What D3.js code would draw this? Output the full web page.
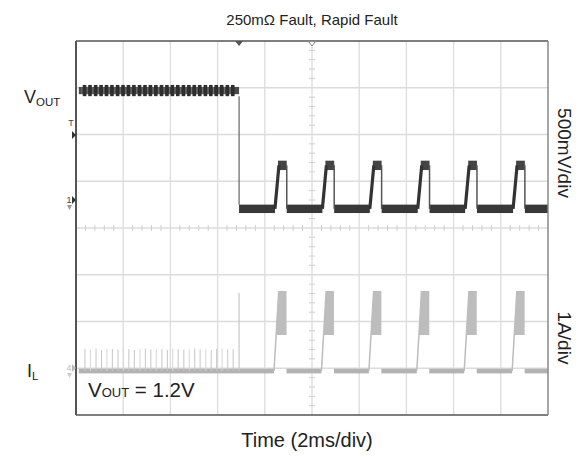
<!DOCTYPE html>
<html><head><meta charset="utf-8">
<script src="https://cdn.jsdelivr.net/npm/d3@7"></script>
<style>body{margin:0;background:#fff} svg{display:block} text{font-family:Arial,'Liberation Sans',sans-serif}</style>
</head><body><svg id="c" width="587" height="457"></svg>
<script>
// ---------- data ----------
const titleText = "250mΩ Fault, Rapid Fault";
const xLabelText = "Time (2ms/div)";
const ch1ScaleText = "500mV/div";
const ch4ScaleText = "1A/div";
const voutNoteMain = "V", voutNoteSub = "OUT", voutNoteRest = " = 1.2V";
const timeDomainMs = [0, 20];           // 10 div x 2 ms
const voutDomain = [-2.2, 1.8];         // 8 div x 0.5 V
const ilDomain = [-0.94, 7.06];         // 8 div x 1 A
const xDivisions = 10, yDivisions = 8, minorPerDiv = 5;
const traceStart = 0.12;
const traceEnd = 20;
const faultTime = 6.91;
const voutPreFault = [1.21, 1.33];
const voutLowBand = [-0.04, 0.05];
const voutPulseTop = [0.42, 0.52];
const pulseStarts = [8.43, 10.44, 12.45, 14.48, 16.49, 18.52];
const voutPulseShape = [[0, 0.005], [0.17, 0.47], [0.5, 0.47], [0.5, 0.005]];
const ilPulseShape = [[-0.04, 0], [0.16, 1.71], [0.49, 1.71], [0.49, 0.77], [0.05, 0.77]];
const ilPulseSlant = [[-0.04, 0], [0.16, 1.71]];
const ilBaseBand = [-0.05, 0.05];
const ilFaultSpike = 1.67;
const ilSwitchTimes = [0.38, 0.61, 0.85, 1.08, 1.31, 1.54, 1.78, 2.01, 2.24, 2.47, 2.71, 2.94, 3.17, 3.40,
  3.64, 3.87, 4.10, 4.33, 4.57, 4.80, 5.03, 5.26, 5.50, 5.73, 5.96, 6.19, 6.43, 6.66];
const ilSwitchPeaks = [0.47, 0.46, 0.48, 0.45, 0.47, 0.47, 0.46, 0.48, 0.47, 0.45, 0.47, 0.48, 0.46, 0.47,
  0.47, 0.45, 0.48, 0.47, 0.46, 0.47, 0.48, 0.46, 0.47, 0.45, 0.47, 0.48, 0.46, 0.47];
const triggerTime = 6.91;   // filled marker on top edge
const centerTime = 10;      // hollow marker on top edge

// ---------- layout ----------
const L = 76, R = 548, T = 41, B = 415;
const svg = d3.select("#c");
const x = d3.scaleLinear().domain(timeDomainMs).range([L, R]);
const yV = d3.scaleLinear().domain(voutDomain).range([B, T]);
const yI = d3.scaleLinear().domain(ilDomain).range([B, T]);
const gx = d3.scaleLinear().domain([0, xDivisions]).range([L, R]);
const gy = d3.scaleLinear().domain([0, yDivisions]).range([T, B]);

// grid
const grid = svg.append("g").attr("stroke", "#dcdcdc").attr("stroke-width", 1.3);
d3.range(1, xDivisions).forEach(i => grid.append("line").attr("x1", gx(i)).attr("x2", gx(i)).attr("y1", T).attr("y2", B));
d3.range(1, yDivisions).forEach(i => grid.append("line").attr("y1", gy(i)).attr("y2", gy(i)).attr("x1", L).attr("x2", R));
// minor ticks on centre lines
const mt = svg.append("g").attr("stroke", "#cfcfcf").attr("stroke-width", 1);
d3.range(0, xDivisions * minorPerDiv).forEach(i => {
  if (i % minorPerDiv === 0) return;
  const xx = gx(i / minorPerDiv);
  mt.append("line").attr("x1", xx).attr("x2", xx).attr("y1", gy(yDivisions / 2) - 3).attr("y2", gy(yDivisions / 2) + 3);
});
d3.range(0, yDivisions * minorPerDiv).forEach(i => {
  if (i % minorPerDiv === 0) return;
  const yy = gy(i / minorPerDiv);
  mt.append("line").attr("y1", yy).attr("y2", yy).attr("x1", gx(xDivisions / 2) - 3).attr("x2", gx(xDivisions / 2) + 3);
});

// ---------- IL trace (grey) ----------
const ilC = "#bdbdbd";
const il = svg.append("g");
const ilSegs = [[traceStart, pulseStarts[0] + ilPulseShape[0][0]]];
pulseStarts.forEach((s, i) => {
  const end = i < pulseStarts.length - 1 ? pulseStarts[i + 1] + ilPulseShape[0][0] : traceEnd;
  ilSegs.push([s + ilPulseShape[2][0], end]);
});
ilSegs.forEach(([a, b]) => il.append("rect").attr("x", x(a)).attr("width", x(b) - x(a))
  .attr("y", yI(ilBaseBand[1])).attr("height", yI(ilBaseBand[0]) - yI(ilBaseBand[1])).attr("fill", "#b3b3b3"));
ilSwitchTimes.forEach((t, i) => il.append("line").attr("x1", x(t)).attr("x2", x(t))
  .attr("y1", yI(0)).attr("y2", yI(ilSwitchPeaks[i])).attr("stroke", i % 3 === 1 ? "#d6d6d6" : "#c6c6c6").attr("stroke-width", 1));
il.append("line").attr("x1", x(faultTime)).attr("x2", x(faultTime)).attr("y1", yI(0)).attr("y2", yI(ilFaultSpike))
  .attr("stroke", "#c8c8c8").attr("stroke-width", 1.2);
const ilLine = d3.line().x(d => x(d[0])).y(d => yI(d[1]));
pulseStarts.forEach(s => {
  il.append("path").attr("d", ilLine(ilPulseShape.map(p => [s + p[0], p[1]])) + "Z").attr("fill", ilC);
  il.append("path").attr("d", ilLine(ilPulseSlant.map(p => [s + p[0], p[1]]))).attr("stroke", ilC).attr("stroke-width", 1.5).attr("fill", "none");
});

// ---------- VOUT trace (dark) ----------
const vC = "#383838";
const vo = svg.append("g");
vo.append("rect").attr("x", x(traceStart)).attr("width", x(faultTime) - x(traceStart))
  .attr("y", yV(voutPreFault[1]) + 2).attr("height", yV(voutPreFault[0]) - yV(voutPreFault[1]) - 4).attr("fill", "#4a4a4a");
ilSwitchTimes.forEach(t => {
  vo.append("rect").attr("x", x(t) - 2.2).attr("width", 3.6).attr("y", yV(voutPreFault[1]))
    .attr("height", yV(voutPreFault[0]) - yV(voutPreFault[1])).attr("fill", "#2e2e2e");
  vo.append("line").attr("x1", x(t) - 3.2).attr("x2", x(t) - 3.2).attr("y1", yV(voutPreFault[1]) + 2).attr("y2", yV(voutPreFault[0]) - 2)
    .attr("stroke", "#777").attr("stroke-width", 0.8);
});
vo.append("line").attr("x1", x(faultTime)).attr("x2", x(faultTime)).attr("y1", yV(voutPreFault[0])).attr("y2", yV(voutLowBand[1]))
  .attr("stroke", "#666").attr("stroke-width", 1.2);
const vSegs = [[faultTime, pulseStarts[0]]];
pulseStarts.forEach((s, i) => vSegs.push([s + voutPulseShape[2][0], i < pulseStarts.length - 1 ? pulseStarts[i + 1] : traceEnd]));
vSegs.forEach(([a, b]) => vo.append("rect").attr("x", x(a)).attr("width", x(b) - x(a))
  .attr("y", yV(voutLowBand[1])).attr("height", yV(voutLowBand[0]) - yV(voutLowBand[1])).attr("fill", vC));
const vLine = d3.line().x(d => x(d[0])).y(d => yV(d[1]));
pulseStarts.forEach(s => {
  vo.append("rect").attr("x", x(s + voutPulseShape[1][0]) - 1).attr("width", x(s + voutPulseShape[2][0]) - x(s + voutPulseShape[1][0]) + 1)
    .attr("y", yV(voutPulseTop[1])).attr("height", yV(voutPulseTop[0]) - yV(voutPulseTop[1])).attr("fill", "#444");
  vo.append("path").attr("d", vLine(voutPulseShape.slice(0, 2).map(p => [s + p[0], p[1]])))
    .attr("stroke", "#333").attr("stroke-width", 3.2).attr("fill", "none");
  vo.append("path").attr("d", vLine(voutPulseShape.slice(2).map(p => [s + p[0], p[1]])))
    .attr("stroke", "#555").attr("stroke-width", 1.5).attr("fill", "none");
});

// ---------- frame ----------
const fr = svg.append("g");
fr.append("line").attr("x1", L).attr("x2", R).attr("y1", T).attr("y2", T).attr("stroke", "#555").attr("stroke-width", 1.5);
fr.append("line").attr("x1", L).attr("x2", R).attr("y1", B).attr("y2", B).attr("stroke", "#555").attr("stroke-width", 1.5);
fr.append("line").attr("x1", L).attr("x2", L).attr("y1", T).attr("y2", B).attr("stroke", "#555").attr("stroke-width", 2);
fr.append("line").attr("x1", R).attr("x2", R).attr("y1", T).attr("y2", B).attr("stroke", "#888").attr("stroke-width", 1.5);

fr.append("path").attr("d", `M${x(triggerTime) - 4},${T} L${x(triggerTime) + 4},${T} L${x(triggerTime)},${T + 5} Z`).attr("fill", "#555");
fr.append("path").attr("d", `M${x(centerTime) - 3.5},${T + 0.5} L${x(centerTime) + 3.5},${T + 0.5} L${x(centerTime)},${T + 5} Z`)
  .attr("fill", "#fff").attr("stroke", "#888").attr("stroke-width", 1);

fr.append("text").attr("x", 71).attr("y", 126).attr("font-size", 9).attr("text-anchor", "middle").attr("fill", "#444").text("T");
fr.append("path").attr("d", "M72,131 L76,135 L72,139 Z").attr("fill", "#333");
fr.append("text").attr("x", 69).attr("y", 203).attr("font-size", 9).attr("text-anchor", "middle").attr("fill", "#444").text("1");
fr.append("path").attr("d", "M72,196 L76,200 L72,204 Z").attr("fill", "#333");
fr.append("path").attr("d", "M67,205 L72,205 L69.5,210 Z").attr("fill", "#999");
fr.append("text").attr("x", 69).attr("y", 371).attr("font-size", 9).attr("text-anchor", "middle").attr("fill", "#bbb").text("4");
fr.append("path").attr("d", "M72,364 L76,368 L72,372 Z").attr("fill", "#bbb");
fr.append("path").attr("d", "M67,373 L72,373 L69.5,378 Z").attr("fill", "#ccc");

// ---------- text ----------
svg.append("text").attr("x", (L + R) / 2).attr("y", 25).attr("text-anchor", "middle").attr("font-size", 15).attr("fill", "#222").text(titleText);
svg.append("text").attr("x", 307).attr("y", 447).attr("text-anchor", "middle").attr("font-size", 20).attr("fill", "#222").text(xLabelText);
const vl = svg.append("text").attr("x", 24).attr("y", 103).attr("font-size", 18).attr("fill", "#222");
vl.append("tspan").text("V"); vl.append("tspan").attr("font-size", 11.5).attr("dy", 3).text("OUT");
const il2 = svg.append("text").attr("x", 27).attr("y", 377).attr("font-size", 18).attr("fill", "#222");
il2.append("tspan").text("I"); il2.append("tspan").attr("font-size", 11.5).attr("dy", 3).text("L");
const vn = svg.append("text").attr("x", 88).attr("y", 397).attr("font-size", 20.5).attr("fill", "#222");
vn.append("tspan").text(voutNoteMain); vn.append("tspan").attr("font-size", 13).text(voutNoteSub);
vn.append("tspan").text(voutNoteRest);
svg.append("text").attr("transform", "translate(558,153) rotate(90)").attr("text-anchor", "middle").attr("font-size", 19).attr("fill", "#222").text(ch1ScaleText);
svg.append("text").attr("transform", "translate(558,338) rotate(90)").attr("text-anchor", "middle").attr("font-size", 19).attr("fill", "#222").text(ch4ScaleText);
</script></body></html>
